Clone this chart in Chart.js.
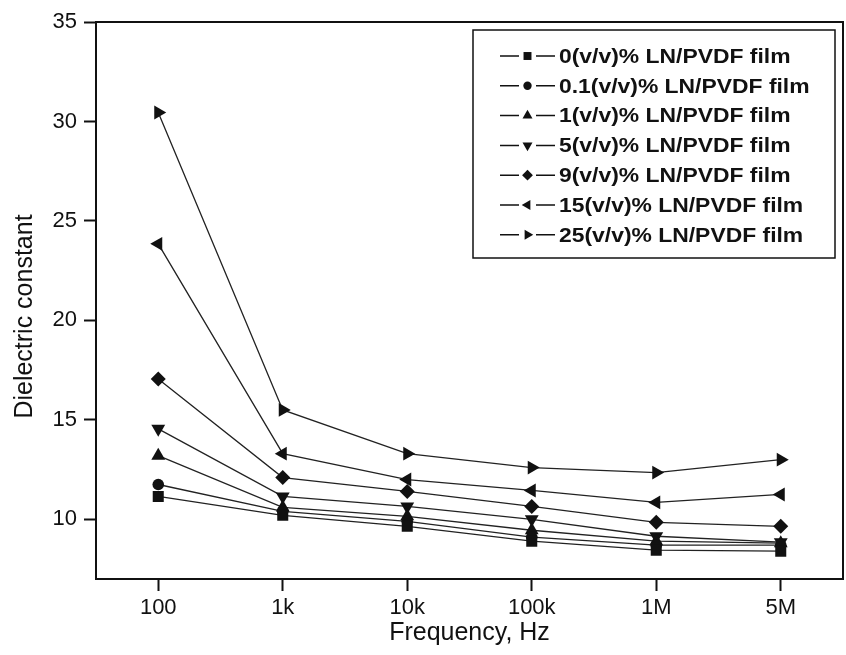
<!DOCTYPE html>
<html>
<head>
<meta charset="utf-8">
<script src="https://cdn.jsdelivr.net/npm/chart.js@4.4.0/dist/chart.umd.min.js"></script>
<style>
    html, body { margin: 0; padding: 0; background: #fff; }
</style>
</head>
<body>
<canvas id="dielectricChart" width="846" height="655"></canvas>
<script>
const frequencies = ["100", "1k", "10k", "100k", "1M", "5M"];
const yTickValues = [10, 15, 20, 25, 30, 35];

const seriesNames = [
    "0(v/v)% LN/PVDF film",
    "0.1(v/v)% LN/PVDF film",
    "1(v/v)% LN/PVDF film",
    "5(v/v)% LN/PVDF film",
    "9(v/v)% LN/PVDF film",
    "15(v/v)% LN/PVDF film",
    "25(v/v)% LN/PVDF film"
];
const film0 = [11.15, 10.2, 9.65, 8.9, 8.45, 8.4];
const film01 = [11.75, 10.4, 9.9, 9.1, 8.7, 8.7];
const film1 = [13.2, 10.6, 10.15, 9.45, 8.9, 8.8];
const film5 = [14.55, 11.15, 10.65, 10.0, 9.15, 8.85];
const film9 = [17.05, 12.1, 11.4, 10.65, 9.85, 9.65];
const film15 = [23.85, 13.3, 12.0, 11.45, 10.85, 11.25];
const film25 = [30.45, 15.5, 13.3, 12.6, 12.35, 13.0];

const seriesValues = [film0, film01, film1, film5, film9, film15, film25];

// marker look for each series (Origin style filled black symbols)
const markers = [
    { style: 'rect', rotation: 0, radius: 7.8 },
    { style: 'circle', rotation: 0, radius: 5.8 },
    { style: 'triangle', rotation: 0, radius: 8 },
    { style: 'triangle', rotation: 180, radius: 8 },
    { style: 'rectRot', rotation: 0, radius: 7.5 },
    { style: 'triangle', rotation: -90, radius: 8 },
    { style: 'triangle', rotation: 90, radius: 8 }
];

const ink = '#111';
const font = "'Liberation Sans', Arial, sans-serif";

const frameAndLegend = { //draws the box round the plot and the legend inside it
    id: 'frameAndLegend',
    afterDraw(chart) {
        const ctx = chart.ctx;
        const a = chart.chartArea;
        ctx.save();
        ctx.strokeStyle = ink;
        ctx.lineWidth = 2;
        ctx.strokeRect(a.left, a.top, a.right - a.left, a.bottom - a.top);

        // y title, drawn here so it can sit a bit below the middle like the original
        ctx.save();
        ctx.translate(25, a.top + (a.bottom - a.top) / 2 + 16);
        ctx.rotate(-Math.PI / 2);
        ctx.font = "25px " + font;
        ctx.textAlign = 'center';
        ctx.textBaseline = 'middle';
        ctx.fillStyle = ink;
        ctx.fillText('Dielectric constant', 0, 0);
        ctx.restore();

        const bx = a.right - 370, by = a.top + 8, bw = 362, bh = 228;
        ctx.lineWidth = 1.5;
        ctx.strokeRect(bx, by, bw, bh);

        ctx.textBaseline = 'middle';
        ctx.fillStyle = ink;
        chart.data.datasets.forEach((ds, i) => {
            const y = by + 26 + i * 29.8;
            const x0 = bx + 27;
            ctx.lineWidth = 1.5;
            ctx.beginPath();
            ctx.moveTo(x0, y); ctx.lineTo(x0 + 19, y);
            ctx.moveTo(x0 + 36, y); ctx.lineTo(x0 + 55, y);
            ctx.stroke();
            Chart.helpers.drawPoint(ctx, {
                pointStyle: ds.pointStyle,
                rotation: ds.pointRotation,
                radius: ds.pointRadius * 0.72,
                borderWidth: 0
            }, x0 + 27.5, y);
            ctx.save();
            ctx.translate(x0 + 59, y + 1);
            ctx.scale(1.09, 1);
            ctx.font = "bold 21px " + font;
            ctx.fillText(ds.label, 0, 0);
            ctx.restore();
        });
        ctx.restore();
    }
};

function createDielectricChart() {
    const ctx = document.getElementById('dielectricChart').getContext('2d');
    const datasets = seriesNames.map((name, i) => ({
        label: name,
        data: seriesValues[i],
        borderColor: '#222',
        borderWidth: 1.3,
        backgroundColor: ink,
        pointStyle: markers[i].style,
        pointRotation: markers[i].rotation,
        pointRadius: markers[i].radius,
        pointBorderWidth: 0,
        pointBackgroundColor: ink,
        tension: 0
    }));

    new Chart(ctx, {
        type: 'line',
        data: { labels: frequencies, datasets: datasets },
        plugins: [frameAndLegend],
        options: {
            responsive: false,
            animation: false,
            layout: { autoPadding: false, padding: { left: 0, right: 3, top: 22, bottom: 0 } },
            plugins: {
                legend: { display: false },
                tooltip: { enabled: false }
            },
            scales: {
                x: {
                    offset: true,
                    grid: {
                        display: true,
                        drawOnChartArea: false,
                        drawTicks: true,
                        tickLength: 12,
                        tickWidth: 2,
                        color: ink,
                        offset: false
                    },
                    border: { display: true, color: ink, width: 2 },
                    ticks: {
                        color: ink,
                        font: { family: font, size: 22 },
                        padding: 4,
                        maxRotation: 0
                    },
                    title: {
                        display: true,
                        text: 'Frequency, Hz',
                        color: ink,
                        font: { family: font, size: 25 },
                        padding: { top: 0, bottom: 7 }
                    },
                    afterFit: scale => {
                        scale.height = 76;
                        scale.paddingLeft = 0;
                        scale.paddingRight = 0;
                    }
                },
                y: {
                    min: 7,
                    max: 35,
                    afterBuildTicks: scale => {
                        scale.ticks = yTickValues.map(v => ({ value: v }));
                    },
                    grid: {
                        display: true,
                        drawOnChartArea: false,
                        drawTicks: true,
                        tickLength: 12,
                        tickWidth: 2,
                        color: ink
                    },
                    border: { display: true, color: ink, width: 2 },
                    ticks: {
                        color: ink,
                        font: { family: font, size: 22 },
                        padding: 7
                    },
                    title: { display: false },
                    afterFit: scale => { scale.width = 96; }
                }
            }
        }
    });
}

document.addEventListener("DOMContentLoaded", function() {
    createDielectricChart();
});
</script>
</body>
</html>
